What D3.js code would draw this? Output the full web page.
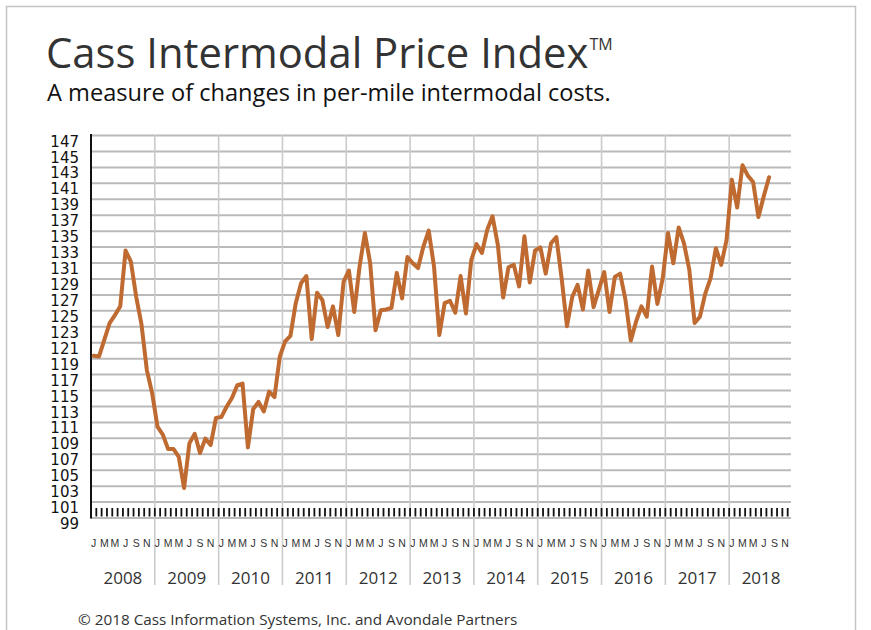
<!DOCTYPE html>
<html><head><meta charset="utf-8">
<script src="https://cdn.jsdelivr.net/npm/d3@7/dist/d3.min.js"></script>
<style>
body{margin:0;background:#fff;}
svg{display:block;font-family:"Open Sans",sans-serif;}
</style></head>
<body><svg id="c" width="871" height="630"></svg>
<script>
const years = ["2008","2009","2010","2011","2012","2013","2014","2015","2016","2017","2018"];
const monthLetters = ["J","","M","","M","","J","","S","","N",""];
const yTicks = [99,101,103,105,107,109,111,113,115,117,119,121,123,125,127,129,131,133,135,137,139,141,143,145,147];
const v2008 = [119.3,119.2,121.3,123.4,124.4,125.5,132.5,131.1,126.7,123.2,117.5,114.6];
const v2009 = [110.4,109.4,107.6,107.6,106.6,102.7,108.3,109.5,107.1,108.9,108.1,111.5];
const v2010 = [111.6,112.9,114.0,115.6,115.8,107.8,112.6,113.5,112.3,114.8,114.1,119.2];
const v2011 = [121.1,121.8,125.9,128.4,129.3,121.4,127.2,126.3,122.9,125.5,121.9,128.6];
const v2012 = [130.0,124.8,130.5,134.7,130.9,122.5,125.0,125.1,125.3,129.7,126.5,131.7];
const v2013 = [130.9,130.3,133.0,135.0,130.5,121.9,125.9,126.2,124.7,129.3,124.6,131.3];
const v2014 = [133.3,132.2,135.1,136.8,133.2,126.6,130.4,130.7,128.0,134.3,128.5,132.5];
const v2015 = [132.9,129.6,133.4,134.2,129.0,123.0,126.7,128.2,125.1,130.0,125.4,127.6];
const v2016 = [129.8,124.8,129.2,129.6,126.3,121.2,123.6,125.5,124.2,130.5,125.8,129.0];
const v2017 = [134.7,130.9,135.4,133.4,130.1,123.4,124.2,127.1,129.0,132.8,130.7,133.8];
const v2018 = [141.4,137.9,143.2,141.9,141.1,136.7,139.3,141.7];
const values = [].concat(v2008,v2009,v2010,v2011,v2012,v2013,v2014,v2015,v2016,v2017,v2018);

const svg = d3.select("#c");
const L = 91, R = 793, T = 135, B = 517.5, gridRight = 791;
const months = d3.range(years.length * 12);
const x = d3.scaleBand().domain(months).range([L, R]).padding(0);
const y = d3.scaleLinear().domain([99, 147]).range([B, T]);

// frame
svg.append("rect").attr("x",6.5).attr("y",6.5).attr("width",849).attr("height",640)
  .attr("fill","none").attr("stroke","#c4c4c4").attr("stroke-width",1.5);

// title
const title = svg.append("text").attr("x",46).attr("y",68).attr("fill","#333")
  .style("font-size","41.8px");
title.append("tspan").text("Cass Intermodal Price Index");
title.append("tspan").attr("dy",-18).attr("dx",1).style("font-size","16px").text("TM");
svg.append("text").attr("x",47).attr("y",101).attr("fill","#111")
  .style("font-size","23.6px").text("A measure of changes in per-mile intermodal costs.");

// horizontal gridlines
const gy = svg.append("g").attr("transform",`translate(${L},0)`)
  .call(d3.axisLeft(y).tickValues(yTicks).tickSize(-(gridRight - L)).tickFormat(""));
gy.select(".domain").remove();
gy.selectAll(".tick line").attr("stroke","#bababa").attr("stroke-width",2);

// vertical year lines
const yearStarts = years.slice(1).map((d,i)=>(i+1)*12);
svg.append("g").selectAll("line").data(yearStarts).join("line")
  .attr("x1",d=>x(d)).attr("x2",d=>x(d)).attr("y1",T).attr("y2",585)
  .attr("stroke","#cbcbcb").attr("stroke-width",1.6);

// month ticks
svg.append("g").selectAll("line").data(months.slice(1)).join("line")
  .attr("x1",d=>x(d)).attr("x2",d=>x(d)).attr("y1",508).attr("y2",516.5)
  .attr("stroke","#111").attr("stroke-width",1.8);

// left axis line
svg.append("line").attr("x1",L).attr("x2",L).attr("y1",T-1).attr("y2",B+1)
  .attr("stroke","#111").attr("stroke-width",2);

// y labels
const ya = svg.append("g").attr("transform",`translate(79,0)`)
  .call(d3.axisLeft(y).tickValues(yTicks).tickSize(0).tickPadding(0));
ya.select(".domain").remove();
ya.selectAll("text").attr("fill","#111").attr("dy","0.74em").attr("x",0)
  .style("font-size","15px").style("font-family","'DejaVu Sans',sans-serif");

// month letters
const xa = svg.append("g").attr("transform",`translate(0,547)`)
  .call(d3.axisBottom(x).tickValues(months.filter(m=>monthLetters[m%12])).tickSize(0).tickPadding(0)
    .tickFormat(m=>monthLetters[m%12]));
xa.select(".domain").remove();
xa.selectAll("text").attr("dy",0).attr("y",0).attr("fill","#333").style("font-size","10.5px");

// year labels
svg.append("g").selectAll("text").data(years).join("text")
  .attr("x",(d,i)=>x(i*12) + x.bandwidth()*6).attr("y",584)
  .attr("text-anchor","middle").attr("fill","#333").style("font-size","17px").text(d=>d);

// line
const line = d3.line().x((d,i)=>x(i)+x.bandwidth()/2).y(d=>y(d)).curve(d3.curveLinear);
svg.append("path").datum(values).attr("d",line).attr("fill","none")
  .attr("stroke","#bf6a31").attr("stroke-width",4).attr("stroke-linejoin","round").attr("stroke-linecap","round");

// footer
svg.append("text").attr("x",78).attr("y",625).attr("fill","#333").style("font-size","15.3px")
  .text("© 2018 Cass Information Systems, Inc. and Avondale Partners");
</script></body></html>
